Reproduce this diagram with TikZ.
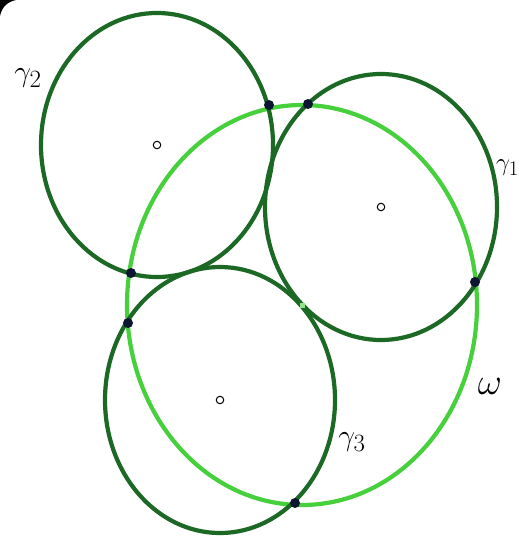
\documentclass[tikz,border=0pt]{standalone}
\usepackage{graphicx}
\usetikzlibrary{positioning}
\definecolor{darkcirc}{RGB}{28,105,38}
\definecolor{lightcirc}{RGB}{70,208,60}
\definecolor{dotcol}{RGB}{12,22,48}

\begin{document}
\begin{tikzpicture}[x=1pt, y=-1pt,
    gam/.style={draw=darkcirc, line width=4.2pt},
    omg/.style={draw=lightcirc, line width=4.2pt},
    pt/.style={circle, fill=dotcol, inner sep=0pt, minimum size=10pt},
    ctr/.style={circle, draw, line width=1pt, inner sep=0pt, minimum size=7.5pt},
    lab/.style={font=\Huge, inner sep=0pt}
  ]
  \useasboundingbox (0,0) rectangle (519,538);
  \fill[white] (0,0) rectangle (519,538);
  \fill[black] (0,0) -- (0,16) .. controls (2,7) and (7,2) .. (16,0) -- cycle;

  \coordinate (o) at (302,305);
  \coordinate (c1) at (381,207);
  \coordinate (c2) at (157,145);
  \coordinate (c3) at (220,400);

  \draw[omg] (o) ellipse [x radius=175, y radius=200];
  \draw[gam] (c1) ellipse [x radius=116, y radius=133];
  \draw[gam] (c2) ellipse [x radius=116, y radius=132];
  \draw[gam] (c3) ellipse [x radius=115, y radius=133];

  \node[ctr] (m1) at (c1) {};
  \node[ctr] (m2) at (c2) {};
  \node[ctr] (m3) at (c3) {};
  \node[rectangle, fill=lightcirc!60!white, inner sep=0pt, minimum size=5pt] (mo) at (o) {};

  \node[pt] (p12) at (269,105) {};
  \node[pt] (p1t) at (308,104) {};
  \node[pt] (p1r) at (475,282) {};
  \node[pt] (p2l) at (131,273) {};
  \node[pt] (p3l) at (128,323) {};
  \node[pt] (p3b) at (295,503) {};

  \node[lab] (l2) at (28,78) {\scalebox{1.2}{$\gamma_2$}};
  \node[lab, anchor=east] (l1) at (519,168) {$\gamma_1$};
  \node[lab] (l3) at (352,442) {\scalebox{1.2}{$\gamma_3$}};
  \node[lab] (lw) at (490,386) {\scalebox{1.5}{$\omega$}};
\end{tikzpicture}
\end{document}
